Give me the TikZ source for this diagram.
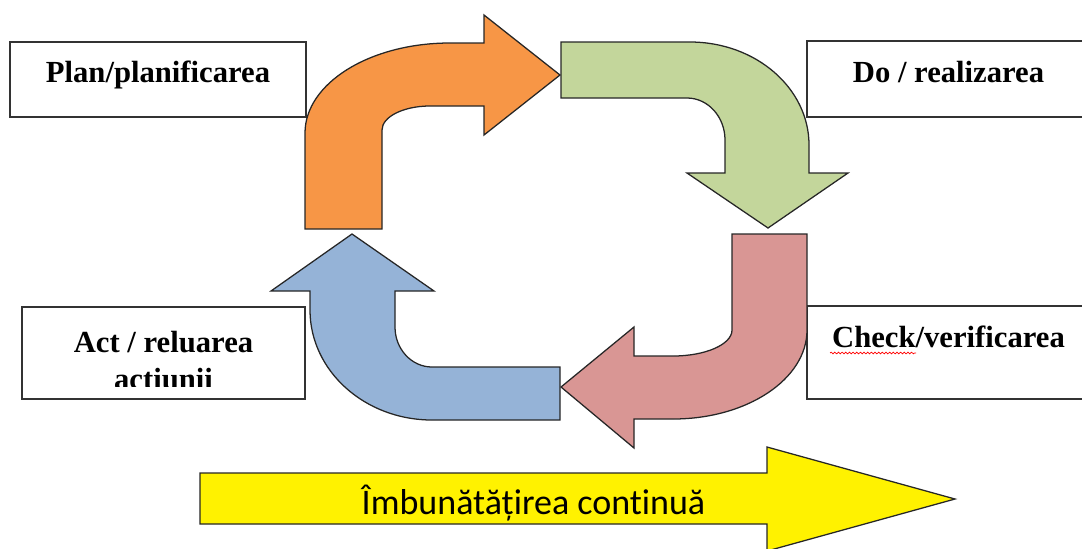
\documentclass[tikz,border=0pt]{standalone}
\usepackage{fontspec}
\setmainfont{Liberation Serif}
\newfontfamily\calibri[Ligatures={NoCommon,NoContextual},Contextuals=NoAlternate]{Carlito}
\usetikzlibrary{decorations.pathmorphing}
\definecolor{planorange}{HTML}{F79646}
\definecolor{dogreen}{HTML}{C3D69B}
\definecolor{checkred}{HTML}{D99694}
\definecolor{actblue}{HTML}{95B3D7}
\begin{document}
\begin{tikzpicture}[x=0.025cm,y=-0.025cm]
    \tikzstyle{box}=[rectangle,draw=black!80,line width=1.2pt,fill=white,inner sep=0pt]
    \tikzstyle{lbl}=[anchor=base,inner sep=0pt,font=\fontsize{21.8}{26}\selectfont\bfseries]
    \tikzstyle{bent}=[draw=black!85,line width=0.9pt,line join=miter]
    \useasboundingbox (0,0) rectangle (1082,548);

    \node[box,minimum width=296*0.025cm,minimum height=75*0.025cm] (plan) at (158,79.5) {};
    \node[box,minimum width=283*0.025cm,minimum height=76*0.025cm] (do) at (948.5,79) {};
    \node[box,minimum width=283*0.025cm,minimum height=93*0.025cm] (check) at (948.5,352.5) {};
    \node[box,minimum width=283*0.025cm,minimum height=92*0.025cm] (act) at (163.5,353) {};

    \node[lbl] (plantxt) at (158,82) {Plan/planificarea};
    \node[lbl] (dotxt) at (948.5,82) {Do / realizarea};
    \node[lbl] (checktxt) at (948.5,347) {Check/verificarea};
    \draw[red,line width=0.5pt,decorate,decoration={snake,amplitude=0.6pt,segment length=2.6pt}]
        (830,353) -- (916,353);
    \begin{scope}
        \clip (22,307) rectangle (305,386);
        \node[lbl] (acttxt) at (163.5,352) {Act / reluarea};
        \node[lbl] (acttxtb) at (163.5,389) {actiunii};
    \end{scope}

    \filldraw[bent,fill=planorange] (305,229) -- (305,133)
        arc[start angle=180,end angle=270,x radius=145,y radius=90]
        -- (484,43) -- (484,15) -- (560,75) -- (484,135) -- (484,106) -- (430,106)
        arc[start angle=270,end angle=180,x radius=48,y radius=24]
        -- (382,229) -- cycle;

    \filldraw[bent,fill=dogreen] (561,42) -- (690,42)
        arc[start angle=270,end angle=360,x radius=119,y radius=103]
        -- (809,173) -- (848,173) -- (768,228) -- (687,173) -- (725,173) -- (725,140)
        arc[start angle=0,end angle=-90,x radius=38,y radius=42]
        -- (561,98) -- cycle;

    \filldraw[bent,fill=checkred] (732,234) -- (807,234) -- (807,330)
        arc[start angle=0,end angle=90,x radius=134,y radius=89]
        -- (634,419) -- (634,448) -- (561,387) -- (634,327) -- (634,356) -- (673,356)
        arc[start angle=90,end angle=0,x radius=59,y radius=26]
        -- cycle;

    \filldraw[bent,fill=actblue] (560,367) -- (432,367)
        arc[start angle=90,end angle=180,x radius=37,y radius=40]
        -- (395,291) -- (434,291) -- (352,234) -- (271,291) -- (310,291) -- (310,310)
        arc[start angle=180,end angle=90,x radius=122,y radius=110]
        -- (560,420) -- cycle;

    \filldraw[bent,fill=yellow] (200,473) -- (767,473) -- (767,447) -- (955,499)
                                -- (767,551) -- (767,524) -- (200,524) -- cycle;
    \node[anchor=base,inner sep=0pt,font=\calibri\fontsize{25.6}{30}\selectfont] (improve)
        at (533.5,514) {Îmbunătățirea continuă};

\end{tikzpicture}
\end{document}
